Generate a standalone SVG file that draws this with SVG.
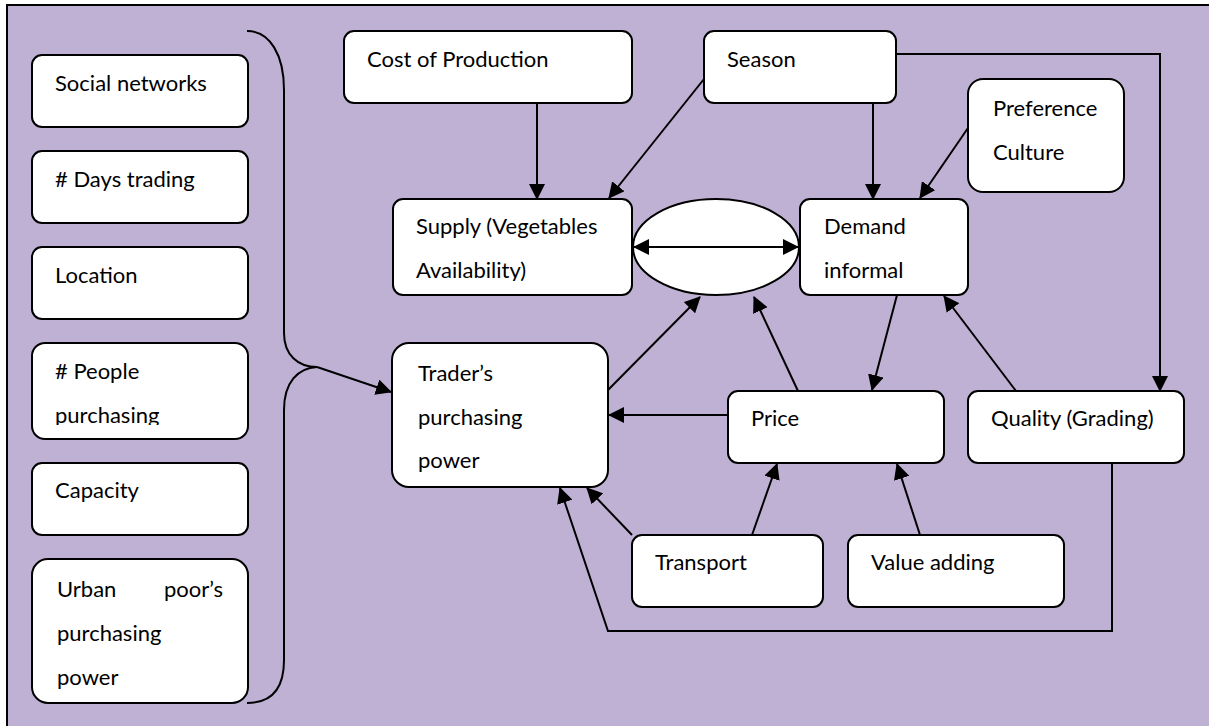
<svg xmlns="http://www.w3.org/2000/svg" width="1209" height="726" viewBox="0 0 1209 726">
<style>
.box{fill:#fff;stroke:#000;stroke-width:2}
.t{font-family:Lato,"Liberation Sans",sans-serif;font-size:22px;fill:#000}
.c{fill:none;stroke:#000;stroke-width:2}
.a{marker-end:url(#ah)}
</style>
<defs>
<marker id="ah" markerUnits="userSpaceOnUse" markerWidth="16" markerHeight="16" refX="15" refY="8" orient="auto-start-reverse">
<path d="M0,0 L16,8 L0,16 z" fill="#000"/>
</marker>
<clipPath id="clipPeople"><rect x="32" y="343" width="216" height="82"/></clipPath>
<clipPath id="clipSupply"><rect x="393" y="199" width="239" height="82"/></clipPath>
</defs>
<rect x="0" y="0" width="1209" height="726" fill="#fff"/>
<rect x="7" y="5" width="1220" height="740" fill="#BFB1D3" stroke="#000" stroke-width="2"/>

<g id="brace">
<path class="c" d="M247,31 C270,31 284,55 284,90 L284,333 C284,355 298,367 317,367 C298,368 284,382 284,410 L284,660 C284,690 270,703 247,703"/>
</g>

<g id="social"><rect class="box" x="32" y="55" width="216" height="72" rx="10"/><text class="t" x="55" y="91">Social networks</text></g>
<g id="days"><rect class="box" x="32" y="151" width="216" height="72" rx="10"/><text class="t" x="55" y="187"># Days trading</text></g>
<g id="location"><rect class="box" x="32" y="247" width="216" height="72" rx="10"/><text class="t" x="55" y="283">Location</text></g>
<g id="people"><rect class="box" x="32" y="343" width="216" height="96" rx="13"/><g clip-path="url(#clipPeople)"><text class="t" x="55" y="379"># People</text><text class="t" x="55" y="423">purchasing</text></g></g>
<g id="capacity"><rect class="box" x="32" y="463" width="216" height="72" rx="10"/><text class="t" x="55" y="498">Capacity</text></g>
<g id="urban"><rect class="box" x="32" y="559" width="216" height="144" rx="16"/><text class="t" x="57" y="597">Urban</text><text class="t" x="223" y="597" text-anchor="end">poor’s</text><text class="t" x="57" y="641">purchasing</text><text class="t" x="57" y="685">power</text></g>

<g id="cost"><rect class="box" x="344" y="31" width="288" height="72" rx="10"/><text class="t" x="367" y="67">Cost of Production</text></g>
<g id="season"><rect class="box" x="704" y="31" width="192" height="72" rx="10"/><text class="t" x="727" y="67">Season</text></g>
<g id="preference"><rect class="box" x="968" y="79" width="156" height="113" rx="15"/><text class="t" x="993" y="116">Preference</text><text class="t" x="993" y="160">Culture</text></g>
<g id="supply"><rect class="box" x="393" y="199" width="239" height="96" rx="10"/><g clip-path="url(#clipSupply)"><text class="t" x="416" y="234">Supply (Vegetables</text><text class="t" x="416" y="278">Availability)</text></g></g>
<g id="link"><ellipse class="box" cx="716" cy="247" rx="83" ry="48"/></g>
<g id="demand"><rect class="box" x="800" y="199" width="168" height="96" rx="10"/><text class="t" x="824" y="234">Demand</text><text class="t" x="824" y="278">informal</text></g>
<g id="trader"><rect class="box" x="392" y="343" width="216" height="144" rx="17"/><text class="t" x="418" y="381">Trader’s</text><text class="t" x="418" y="425">purchasing</text><text class="t" x="418" y="468">power</text></g>
<g id="price"><rect class="box" x="728" y="391" width="216" height="72" rx="10"/><text class="t" x="751" y="426">Price</text></g>
<g id="quality"><rect class="box" x="968" y="391" width="216" height="72" rx="10"/><text class="t" x="991" y="426">Quality (Grading)</text></g>
<g id="transport"><rect class="box" x="632" y="535" width="191" height="72" rx="10"/><text class="t" x="655" y="570">Transport</text></g>
<g id="value"><rect class="box" x="848" y="535" width="216" height="72" rx="10"/><text class="t" x="871" y="570">Value adding</text></g>

<g id="connectors">
<path class="c a" d="M537,103 L537,199"/>
<path class="c a" d="M704,79 L609,198"/>
<path class="c a" d="M873,103 L873,199"/>
<path class="c a" d="M968,128 L920,198"/>
<path class="c a" d="M896,54 L1160,54 L1160,391"/>
<path class="c a" d="M634,247 L798,247" marker-start="url(#ah)"/>
<path class="c a" d="M897,295 L872,390"/>
<path class="c a" d="M1016,391 L944,296"/>
<path class="c a" d="M798,391 L754,297"/>
<path class="c a" d="M608,390 L700,297"/>
<path class="c a" d="M728,415 L609,415"/>
<path class="c a" d="M752,535 L777,464"/>
<path class="c a" d="M920,535 L897,464"/>
<path class="c a" d="M632,535 L587,488"/>
<path class="c a" d="M1112,463 L1112,631 L608,631 L560,488"/>
<path class="c a" d="M317,367 L391,392"/>
</g>
</svg>
